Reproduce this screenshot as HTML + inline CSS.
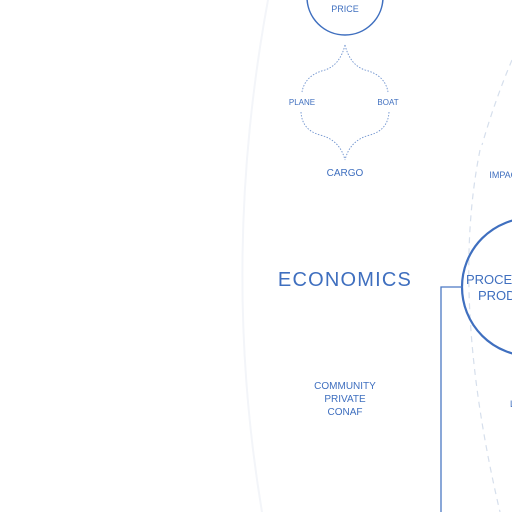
<!DOCTYPE html>
<html><head><style>
html,body{margin:0;padding:0;background:#fff;width:512px;height:512px;overflow:hidden}
text{font-family:"Liberation Sans",sans-serif;fill:#3f6fbf}
</style></head><body>
<svg width="512" height="512" viewBox="0 0 512 512" xmlns="http://www.w3.org/2000/svg">
<path d="M268 0 Q220 260 262 512" fill="none" stroke="#f3f5f9" stroke-width="2"/>
<path d="M480 150 Q450 300 500 512" fill="none" stroke="#d6dfec" stroke-width="1.2" stroke-dasharray="6 5"/>
<path d="M512 60 Q495 100 482 145" fill="none" stroke="#d6dfec" stroke-width="1.2" stroke-dasharray="6 5"/>
<circle cx="345" cy="-3" r="38" fill="none" stroke="#3f6fbf" stroke-width="1.5"/>
<text x="345" y="-3" font-size="9" text-anchor="middle">QUANTITY</text>
<text x="345" y="12" font-size="9" text-anchor="middle">PRICE</text>
<g fill="none" stroke="#6f93cf" stroke-width="0.9" stroke-dasharray="1.5 1.5">
<path d="M345 45 Q340 65 325 70 Q305 75 302 92"/>
<path d="M345 45 Q350 65 365 70 Q385 75 388 92"/>
<path d="M301 112 Q302 130 320 135 Q340 140 345 160"/>
<path d="M389 112 Q388 130 370 135 Q350 140 345 160"/>
</g>
<text x="302" y="105" font-size="8" text-anchor="middle">PLANE</text>
<text x="388" y="105" font-size="8" text-anchor="middle">BOAT</text>
<text x="345" y="176" font-size="10" text-anchor="middle">CARGO</text>
<text x="506" y="178" font-size="9" text-anchor="middle">IMPACT</text>
<text x="345" y="286" font-size="20" text-anchor="middle" letter-spacing="1.2">ECONOMICS</text>
<text x="345" y="389" font-size="10" text-anchor="middle">COMMUNITY</text>
<text x="345" y="402" font-size="10" text-anchor="middle">PRIVATE</text>
<text x="345" y="415" font-size="10" text-anchor="middle">CONAF</text>
<circle cx="531" cy="287" r="69" fill="none" stroke="#3f6fbf" stroke-width="2.2"/>
<text x="466" y="284" font-size="13">PROCESS</text>
<text x="478" y="300" font-size="13">PRODUCT</text>
<text x="510" y="407" font-size="9">L</text>
<path d="M462 287 H441 V512" fill="none" stroke="#4a78c4" stroke-width="1.3"/>
</svg>
</body></html>
